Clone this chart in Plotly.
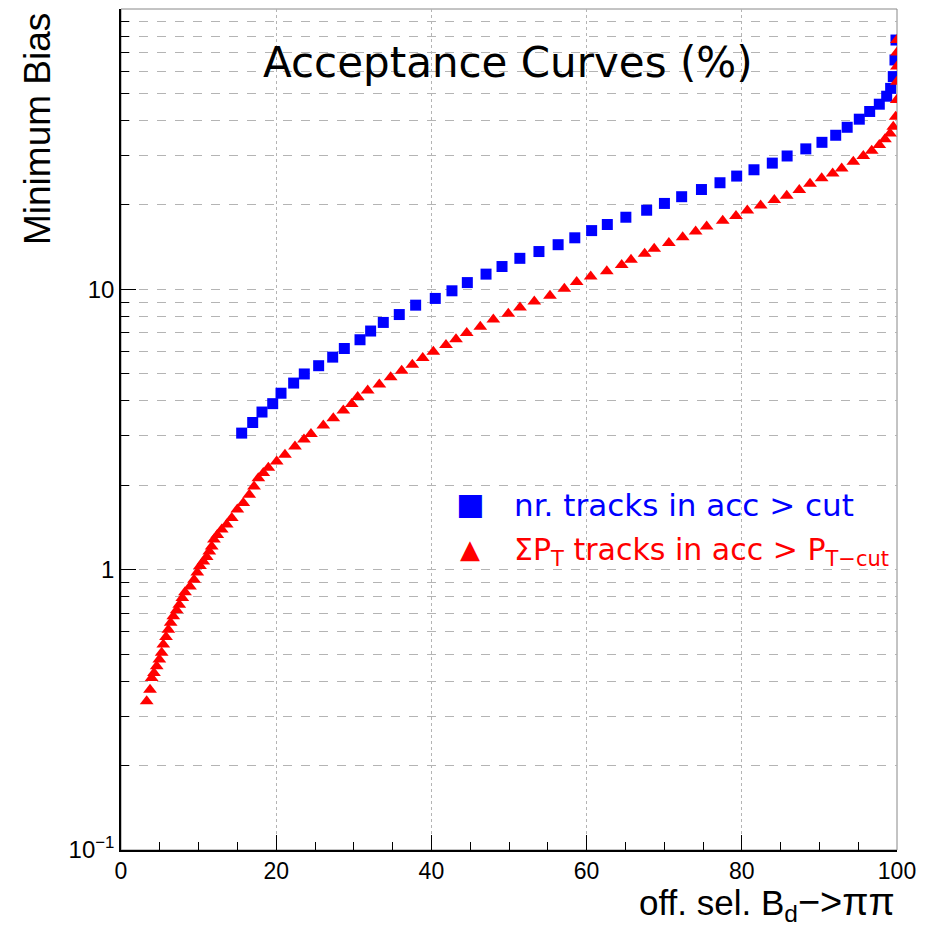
import plotly.graph_objects as go

# ---- data ----
blue_x = [15.55, 16.97, 18.17, 19.55, 20.62, 22.25, 23.62, 25.47, 27.28, 28.78,
          30.80, 32.17, 33.80, 35.86, 37.97, 40.50, 42.65, 44.63, 47.04, 49.10,
          51.40, 53.86, 56.33, 58.48, 60.65, 62.67, 65.06, 67.74, 70.03, 72.25,
          74.80, 77.19, 79.34, 81.57, 83.93, 85.84, 88.25, 90.33, 92.10, 93.58,
          95.14, 96.48, 97.72, 98.67, 99.18, 99.52, 99.74, 99.87]
blue_y = [3.07, 3.35, 3.65, 3.91, 4.26, 4.63, 4.99, 5.34, 5.73, 6.15,
          6.61, 7.10, 7.62, 8.13, 8.78, 9.28, 9.88, 10.57, 11.33, 12.06,
          12.9, 13.64, 14.43, 15.27, 16.2, 17.03, 18.08, 19.15, 20.25, 21.4,
          22.7, 24.0, 25.35, 26.7, 28.2, 29.9, 31.7, 33.45, 35.45, 37.85,
          40.45, 43.1, 45.75, 48.85, 52.1, 57.4, 65.8, 77.5]

red_x = [3.31, 3.74, 3.95, 4.25, 4.60, 4.94, 5.24, 5.45, 5.80, 6.10,
         6.40, 6.74, 7.17, 7.51, 7.90, 8.25, 8.89, 9.41, 9.83, 10.18,
         10.61, 11.04, 11.38, 11.69, 11.98, 12.41, 12.98, 13.62, 14.27, 14.99,
         15.76, 16.53, 17.14, 17.70, 18.34, 18.99, 20.06, 21.13, 22.42, 23.58,
         24.48, 26.07, 27.36, 28.65, 29.73, 30.50, 31.79, 33.29, 34.75, 36.17,
         37.54, 38.88, 40.25, 41.88, 43.17, 44.55, 46.30, 47.98, 49.91, 51.42,
         53.26, 55.28, 57.13, 58.72, 60.53, 62.60, 64.52, 65.72, 67.48, 68.71,
         70.60, 72.38, 74.05, 75.47, 77.54, 79.25, 80.71, 82.43, 84.19, 85.79,
         87.41, 88.79, 90.29, 91.71, 92.87, 94.37, 95.66, 96.74, 97.72, 98.45,
         99.10, 99.52, 99.83, 99.96, 99.98, 99.99, 100.0, 100.0]
red_y = [0.339, 0.373, 0.411, 0.428, 0.452, 0.478, 0.505, 0.541, 0.575, 0.611,
         0.646, 0.682, 0.716, 0.750, 0.792, 0.830, 0.871, 0.921, 0.978, 1.03,
         1.07, 1.11, 1.16, 1.21, 1.28, 1.33, 1.39, 1.45, 1.53, 1.64,
         1.73, 1.85, 1.98, 2.12, 2.21, 2.31, 2.43, 2.57, 2.75, 2.91,
         3.05, 3.27, 3.47, 3.70, 3.90, 4.13, 4.36, 4.58, 4.86, 5.12,
         5.38, 5.69, 5.99, 6.33, 6.64, 6.98, 7.35, 7.80, 8.18, 8.61,
         9.05, 9.48, 10.04, 10.61, 11.11, 11.6, 12.2, 12.74, 13.4, 13.96,
         14.62, 15.35, 16.07, 16.75, 17.55, 18.28, 19.10, 19.90, 20.85, 21.55,
         22.63, 23.78, 24.9, 25.9, 27.0, 28.5, 29.9, 31.2, 32.7, 34.3,
         36.0, 38.0, 41.3, 47.4, 55.0, 62.3, 70.0, 77.5]

x_ticks = [0, 20, 40, 60, 80, 100]
x_minor = [5, 10, 15, 25, 30, 35, 45, 50, 55, 65, 70, 75, 85, 90, 95]
y_ticks = [0.1, 1, 10]
y_ticklabels = ["10<sup>−1</sup>", "1", "10"]
y_minor = [m * d for d in (0.1, 1, 10) for m in range(2, 10)]

title_text = "Acceptance Curves (%)"
y_title = "Minimum Bias"
x_title = "off. sel. B<sub>d</sub><span style='font-size:38px'>−&gt;ππ</span>"
legend_blue = "nr. tracks in acc &gt; cut"
legend_red = "ΣP<sub>T</sub> tracks in acc &gt; P<sub>T−cut</sub>"

W, H = 934, 926
L, R, T, B = 121, 37, 9, 76
pw, ph = W - L - R, H - T - B


def px(x):
    return (x - L) / pw


def py(y):
    return (H - B - y) / ph


fig = go.Figure()
fig.add_trace(go.Scatter(x=blue_x, y=blue_y, mode="markers",
                         marker=dict(symbol="square", size=11, color="#0000ff"),
                         showlegend=False))
fig.add_trace(go.Scatter(x=red_x, y=red_y, mode="markers",
                         marker=dict(symbol="triangle-up", size=12, color="#ff0000"),
                         showlegend=False))

grid = "#b4b4b4"
fig.update_xaxes(range=[0, 100], tickvals=x_ticks, ticks="inside", ticklen=15,
                 tickcolor="black", showline=True, linecolor="black", linewidth=1.5,
                 mirror=False, showgrid=True, gridcolor=grid, griddash="dot", gridwidth=1,
                 zeroline=False,
                 tickfont=dict(family="Liberation Sans", size=23, color="black"),
                 minor=dict(tickvals=x_minor, ticks="inside", ticklen=8, tickcolor="black",
                            showgrid=False))
fig.update_yaxes(type="log", range=[-1, 2], tickvals=y_ticks, ticktext=y_ticklabels,
                 ticks="inside", ticklen=15, tickcolor="black", showline=True,
                 linecolor="black", linewidth=1.5, showgrid=True, gridcolor=grid,
                 griddash="dash", gridwidth=1, zeroline=False,
                 tickfont=dict(family="Liberation Sans", size=24, color="black"),
                 minor=dict(tickvals=y_minor, ticks="inside", ticklen=8, tickcolor="black",
                            showgrid=True, gridcolor=grid, griddash="dash", gridwidth=1))

# frame top/right
fig.add_shape(type="rect", xref="paper", yref="paper", x0=0, x1=1, y0=0, y1=1,
              line=dict(color="#888888", width=1), layer="below")

ann = []
ann.append(dict(text=title_text, x=px(508), y=py(62), xref="paper", yref="paper",
                xanchor="center", yanchor="middle", showarrow=False,
                font=dict(family="DejaVu Sans", size=42, color="black")))
ann.append(dict(text=y_title, x=px(38), y=py(11), xref="paper", yref="paper",
                textangle=-90, xanchor="center", yanchor="top", showarrow=False,
                font=dict(family="Liberation Sans", size=37, color="black")))
ann.append(dict(text=x_title, x=px(897), y=py(904), xref="paper", yref="paper",
                xanchor="right", yanchor="middle", showarrow=False,
                font=dict(family="Liberation Sans", size=35, color="black")))
ann.append(dict(text="■", x=px(470), y=py(503), xref="paper", yref="paper",
                xanchor="center", yanchor="middle", showarrow=False,
                font=dict(family="DejaVu Sans", size=30, color="#0000ff")))
ann.append(dict(text="▲", x=px(470), y=py(549), xref="paper", yref="paper",
                xanchor="center", yanchor="middle", showarrow=False,
                font=dict(family="DejaVu Sans", size=26, color="#ff0000")))
ann.append(dict(text=legend_blue, x=px(512), y=py(505), xref="paper", yref="paper",
                xanchor="left", yanchor="middle", showarrow=False,
                font=dict(family="DejaVu Sans", size=31, color="#0000ff")))
ann.append(dict(text=legend_red, x=px(512), y=py(551), xref="paper", yref="paper",
                xanchor="left", yanchor="middle", showarrow=False,
                font=dict(family="DejaVu Sans", size=30, color="#ff0000")))

fig.update_layout(width=W, height=H, margin=dict(l=L, r=R, t=T, b=B),
                  paper_bgcolor="white", plot_bgcolor="white", annotations=ann,
                  showlegend=False)

fig.write_html("out.html", config={"displayModeBar": False},
               post_script="document.body.style.margin='0px';"
                           "document.body.style.overflow='hidden';")
